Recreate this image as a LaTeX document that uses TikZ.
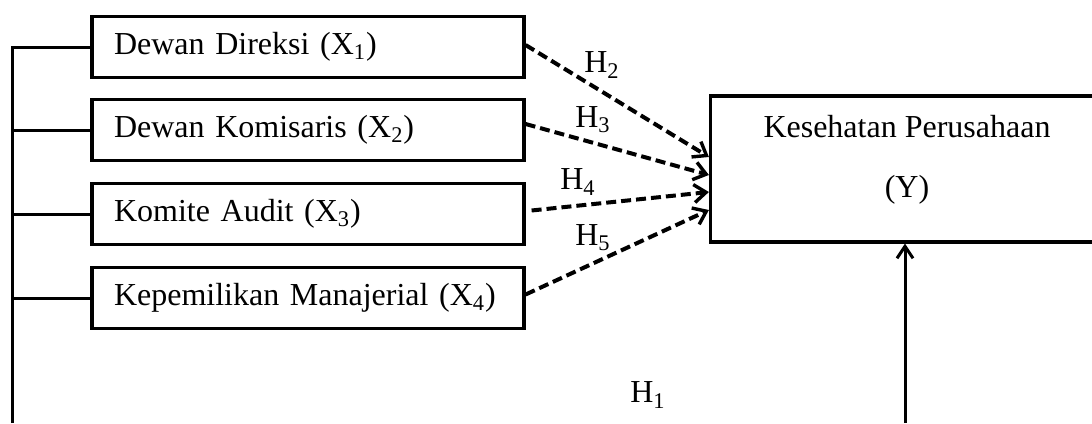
\documentclass[tikz,border=0pt]{standalone}
\usepackage{fontspec}
\setmainfont{Liberation Serif}
\usetikzlibrary{arrows.meta,positioning}

\begin{document}
\begin{tikzpicture}[
x=0.5pt, y=-0.5pt,
font=\fontsize{16}{19}\selectfont,
line width=1.5pt,
varbox/.style={draw, line width=1.6pt, minimum height=30.4pt,
  text width=194pt, align=left, inner xsep=11pt, inner ysep=0pt},
hyp/.style={line width=2pt, dash pattern=on 5pt off 2.5pt,
  -{Straight Barb[length=6pt,width=9pt,line width=1.7pt]}}]
    \useasboundingbox (0,0) rectangle (1092,423);

    % Variables
    \node[varbox] (d1) at (308,47) {Dewan Direksi (X\textsubscript{1})};
    \node[varbox, below=9.5pt of d1] (d2) {Dewan Komisaris (X\textsubscript{2})};
    \node[varbox, below=10pt of d2] (d3) {Komite Audit (X\textsubscript{3})};
    \node[varbox, below=10pt of d3] (d4) {Kepemilikan Manajerial (X\textsubscript{4})};

    \node[draw, line width=1.6pt, minimum width=194.5pt, minimum height=73pt]
        (y) at (905,169) {};
    \node (ytop) at (907,127) {Kesehatan Perusahaan};
    \node (ybot) at (907,190) {(Y)};

    % Left bus and H1
    \coordinate (bus) at (12,423);
    \coordinate (ybase) at (905,423);
    \draw (bus) |- (d1.west);
    \draw (d2.west) -- (d2.west -| bus);
    \draw (d3.west) -- (d3.west -| bus);
    \draw (d4.west) -- (d4.west -| bus);
    \draw[-{Straight Barb[length=6pt,width=8pt]}] (ybase) -- (y.south);

    % Hypotheses
    \draw[hyp] ([yshift=1pt]d1.east) -- ([yshift=6pt]y.west);
    \draw[hyp] ([yshift=3pt]d2.east) -- ([yshift=-3pt]y.west);
    \draw[hyp] ([xshift=3pt,yshift=1.75pt]d3.east) -- ([yshift=-11.5pt]y.west);
    \draw[hyp] ([yshift=1.75pt]d4.east) -- ([yshift=-20.5pt]y.west);

    \node (h2) at (602,65) {H\textsubscript{2}};
    \node (h3) at (593,120) {H\textsubscript{3}};
    \node (h4) at (578,182) {H\textsubscript{4}};
    \node (h5) at (593,238) {H\textsubscript{5}};
    \node (h1) at (648,395) {H\textsubscript{1}};

\end{tikzpicture}
\end{document}
